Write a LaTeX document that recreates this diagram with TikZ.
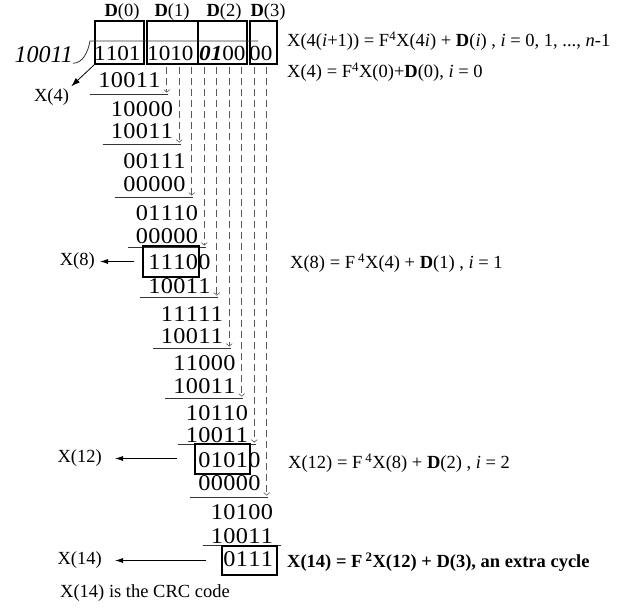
\documentclass[tikz,border=0pt]{standalone}
\usepackage{fontspec}
\usepackage{graphicx}
\setmainfont{Liberation Serif}
\usetikzlibrary{arrows.meta}
\newlength\dw \setlength\dw{12.5pt}
\newcommand\digrow[1]{\edef\crcl{#1}\expandafter\digrowi\crcl\relax}
\def\digrowi#1{\ifx#1\relax\else\makebox[\dw]{\scalebox{1.08}[1]{#1}}\expandafter\digrowi\fi}
\begin{document}
\begin{tikzpicture}[x=1pt,y=-1pt,
  dig/.style={font=\fontsize{22.5}{22}\selectfont, inner sep=0, anchor=west},
  topdig/.style={font=\fontsize{21.5}{22}\selectfont\setlength\dw{11.6pt}, inner sep=0, anchor=west},
  txt/.style={font=\fontsize{18.5}{22}\selectfont, inner sep=0},
  bring/.style={draw=black!65, dash pattern=on 7pt off 4pt, line width=0.8pt,
    -{Straight Barb[length=2.5pt,width=6pt,line width=0.6pt]}},
  rule/.style={draw=black!80, line width=0.8pt},
  hl/.style={draw, line width=2pt, inner sep=0},
  outarrow/.style={draw, line width=0.8pt, -{Latex[length=8pt,width=5pt]}}]
\useasboundingbox (0,0) rectangle (618,608);

% top boxes
\node[hl, minimum width=49pt, minimum height=43pt] (b0) at (119.5,42.5) {};
\node[hl, minimum width=51pt, minimum height=43pt] (b1) at (172.5,42.5) {};
\node[hl, minimum width=49pt, minimum height=43pt] (b2) at (222.5,42.5) {};
\node[hl, minimum width=27pt, minimum height=43pt] (b3) at (263.5,42.5) {};
\node[txt] (l0) at (122,12) {\textbf{D}(0)};
\node[txt] (l1) at (172,12) {\textbf{D}(1)};
\node[txt] (l2) at (224,12) {\textbf{D}(2)};
\node[txt] (l3) at (268,12) {\textbf{D}(3)};

% top digits
\node[topdig] (t0) at (94,53) {\digrow{1101}};
\node[topdig] (t1) at (147,53) {\digrow{1010}};
\node[topdig] (t2) at (199,53) {{\bfseries\itshape\digrow{01}}\digrow{00}};
\node[topdig] (t3) at (249,53) {\digrow{00}};

% divisor and bracket
\node[font=\fontsize{24}{24}\selectfont\itshape, inner sep=0, anchor=east] (g) at (73,55) {10011};
\coordinate (brk) at (258,41);
\draw[rule] (g.south east) .. controls (83,63) and (88,52) .. (90,41) -- (brk);

% subtrahend rows
\foreach \k/\bits/\ys in {0/10011/80, 1/10011/131, 2/00000/184, 3/00000/236, 4/10011/286,
  5/10011/336, 6/10011/386, 7/10011/435, 8/00000/483, 9/10011/536}
  \node[dig] (s\k) at ({98+12.5*\k},\ys) {\digrow{\bits}};
% result rows
\foreach \k/\bits/\ys in {0/10000/109, 1/00111/161, 2/01110/213, 3/11100/262, 4/11111/314,
  5/11000/363, 6/10110/413, 7/01010/460, 8/10100/512}
  \node[dig] (r\k) at ({110.5+12.5*\k},\ys) {\digrow{\bits}};
\node[dig] (r9) at (223,559) {\digrow{0111}};

% underlines
\foreach \k/\yu in {0/94,1/144,2/197,3/247,4/297,5/348,6/398,7/444,8/497,9/545}
  \draw[rule] ({90+12.5*\k},\yu) -- ({168+12.5*\k},\yu);

% bring-down dashed arrows
\foreach \k/\yu in {0/94,1/144,2/197,3/247,4/297,5/348,6/398,7/444,8/497}
  \draw[bring] ({166.75+12.5*\k},67) -- ({166.75+12.5*\k},\yu-1.5);

% highlighted remainders
\node[hl, minimum width=56pt, minimum height=31pt] (bA) at (171,261.5) {};
\node[hl, minimum width=55pt, minimum height=30pt] (bB) at (222.5,458.5) {};
\node[hl, minimum width=55pt, minimum height=29pt] (bC) at (249.5,560.5) {};

% left labels
\node[txt, inner sep=2pt] (x4) at (51.5,97) {X(4)};
\draw[line width=0.8pt, -{Latex[length=9pt,width=6pt]}] (b0.south west) -- (x4.north east);
\node[txt, anchor=east] (x8) at (95,261.5) {X(8)};
\draw[outarrow] ([xshift=-8pt]bA.west) -- ([xshift=5pt]x8.east);
\node[txt, anchor=east] (x12) at (102,458.5) {X(12)};
\draw[outarrow] ([xshift=-17pt]bB.west) -- ([xshift=13pt]x12.east);
\node[txt, anchor=east] (x14) at (102,560.5) {X(14)};
\draw[outarrow] ([xshift=-15pt]bC.west) -- ([xshift=13pt]x14.east);

% equations
\node[txt, anchor=west] (e1) at (287,41) {X(4(\textit{i}+1)) = F\textsuperscript{4}X(4\textit{i}) + \textbf{D}(\textit{i}) , \textit{i} = 0, 1, ..., \textit{n}-1};
\node[txt, anchor=west] (e2) at (287,72) {X(4) = F\textsuperscript{4}X(0)+\textbf{D}(0), \textit{i} = 0};
\node[txt, anchor=west] (e3) at (290,263) {X(8) = F\,\textsuperscript{4}X(4) + \textbf{D}(1) , \textit{i} = 1};
\node[txt, anchor=west] (e4) at (288,463) {X(12) = F\,\textsuperscript{4}X(8) + \textbf{D}(2) , \textit{i} = 2};
\node[txt, anchor=west] (e5) at (287,562) {\textbf{X(14) = F\,\textsuperscript{2}X(12) + D(3), an extra cycle}};
\node[txt, anchor=west] (cap) at (60,593) {X(14) is the CRC code};
\end{tikzpicture}
\end{document}
